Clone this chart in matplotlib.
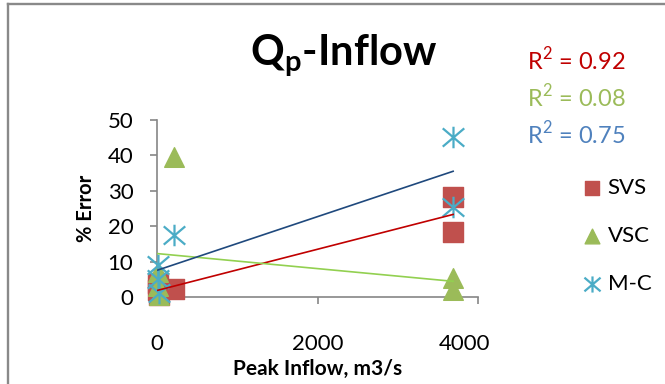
import numpy as np
import matplotlib
matplotlib.use("Agg")
import matplotlib.pyplot as plt
import matplotlib.transforms as mtransforms
from matplotlib.path import Path
from matplotlib.lines import Line2D

plt.rcParams["font.family"] = ["Lato", "DejaVu Sans"]
plt.rcParams["mathtext.fontset"] = "custom"
plt.rcParams["mathtext.bf"] = "Lato:bold"
plt.rcParams["mathtext.rm"] = "Lato"

# data
inflow = [10, 15, 20, 210, 3690, 3690]
err_svs = [4, 2, 0.5, 2.3, 28.2, 18.5]
err_vsc = [7, 3, 0.5, 39.5, 5.4, 2]
err_mc = [9, 5, 1, 17.5, 45.2, 25.4]
r2_labels = [r"R$^\mathrm{2}$ = 0.92", r"R$^\mathrm{2}$ = 0.08", r"R$^\mathrm{2}$ = 0.75"]
x_ticks = [0, 2000, 4000]
y_ticks = [0, 10, 20, 30, 40, 50]

W, H = 665, 384
fig = plt.figure(figsize=(W / 100, H / 100), dpi=100)
ax = fig.add_axes([157 / W, 1 - 297 / H, (478 - 157) / W, (297 - 120) / H])

# excel-like asterisk: vertical stroke plus an X
star = Path([(0, -1), (0, 1), (-1, -0.85), (1, 0.85), (-1, 0.85), (1, -0.85)],
            [Path.MOVETO, Path.LINETO, Path.MOVETO, Path.LINETO, Path.MOVETO, Path.LINETO])

x = np.array(inflow)
ax.scatter(x, err_svs, marker="s", s=200, color="#C0504D", label="SVS", clip_on=False, zorder=3)
ax.scatter(x, err_vsc, marker="^", s=200, color="#9BBB59", label="VSC", clip_on=False, zorder=4)
ax.scatter(x, err_mc, marker=star, s=240, color="#4BACC6", linewidths=1.6, label="M-C", clip_on=False, zorder=5)

# linear trendlines over the data range
xs = np.array([x.min(), x.max()])
for ys, col in [(err_svs, "#C00000"), (err_vsc, "#92D050"), (err_mc, "#1F497D")]:
	k, b = np.polyfit(x, ys, 1)
	ax.plot(xs, k * xs + b, color=col, linewidth=1.2, zorder=6)

ax.set_xlim(0, 4000)
ax.set_ylim(0, 50)
ax.set_xticks(x_ticks)
ax.set_yticks(y_ticks)
for s in ["top", "right"]:
	ax.spines[s].set_visible(False)
for s in ["left", "bottom"]:
	ax.spines[s].set_color("#868686")
	ax.spines[s].set_linewidth(1.2)
ax.tick_params(colors="#868686", labelcolor="black", width=1.2, length=5, labelsize=16)
ax.tick_params(axis="x", pad=22)
ax.tick_params(axis="y", pad=12)
# excel pulls the last x label back inside the plot
last = ax.get_xticklabels()[-1]
last.set_transform(last.get_transform() + mtransforms.ScaledTranslation(-13 / 100, 0, fig.dpi_scale_trans))

ax.set_xlabel("Peak Inflow, m3/s", fontsize=15, fontweight="bold", labelpad=3)
ax.set_ylabel("% Error", fontsize=14.5, fontweight="bold")
ax.yaxis.set_label_coords(-0.19, 0.5)

fig.text(344 / W, 1 - 55 / H, r"Q$_\mathbf{p}$-Inflow", fontsize=30, fontweight="bold",
         ha="center", va="center")

for i, (lab, col) in enumerate(zip(r2_labels, ["#C00000", "#9BBB59", "#4F81BD"])):
	fig.text(527 / W, 1 - (60 + 37 * i) / H, lab, fontsize=17, color=col, va="center")

ax.legend(loc="upper left", bbox_to_anchor=(561 / W, 1 - 158 / H), bbox_transform=fig.transFigure,
          frameon=False, fontsize=16, labelspacing=1.25, handlelength=1.0, handletextpad=0.2,
          scatterpoints=1, markerscale=0.75)

# chart frame (cropped on the right and bottom)
fig.add_artist(Line2D([7.5 / W, 7.5 / W], [0, 1 - 4 / H], color="#898989", linewidth=1.7))
fig.add_artist(Line2D([7.5 / W, 1], [1 - 4 / H, 1 - 4 / H], color="#898989", linewidth=1.7))

fig.savefig("out.png", dpi=100)
